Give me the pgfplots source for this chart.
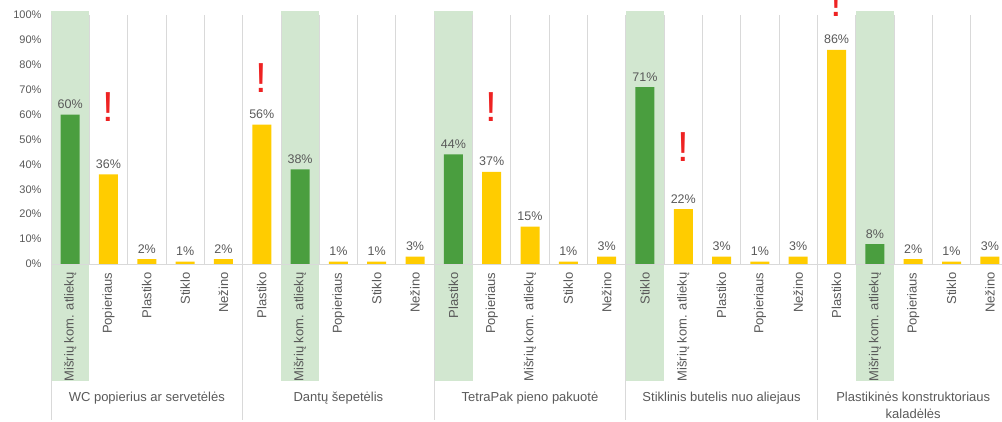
\documentclass[border=0pt]{standalone}
\usepackage{pgfplots}
\pgfplotsset{compat=1.18}
\usepackage{fontspec}
\setmainfont{Liberation Sans}
\definecolor{txt}{HTML}{595959}
\definecolor{grn}{HTML}{4A9E3F}
\definecolor{ylw}{HTML}{FFCC00}
\definecolor{hl}{HTML}{D2E7D0}
\definecolor{grd}{HTML}{D9D9D9}
\definecolor{exc}{HTML}{EE2222}
\begin{document}
\begin{tikzpicture}
\begin{axis}[
  at={(0pt,0pt)}, anchor=south west,
  scale only axis, width=958pt, height=249pt,
  xmin=-0.5, xmax=24.5, ymin=0, ymax=100,
  clip=false, axis on top,
  axis line style={draw=none},
  /pgf/number format/assume math mode=true,
  ytick={0,10,...,100},
  yticklabel={\pgfmathprintnumber{\tick}\%},
  yticklabel style={font=\fontsize{11}{13}\selectfont, text=txt, xshift=-6pt},
  xtick={0,...,24},
  xticklabels={Mišrių kom. atliekų, Popieriaus, Plastiko, Stiklo, Nežino, Plastiko, Mišrių kom. atliekų, Popieriaus, Stiklo, Nežino, Plastiko, Popieriaus, Mišrių kom. atliekų, Stiklo, Nežino, Stiklo, Mišrių kom. atliekų, Plastiko, Popieriaus, Nežino, Plastiko, Mišrių kom. atliekų, Popieriaus, Stiklo, Nežino},
  xticklabel style={yshift=-5pt, rotate=90, anchor=east, font=\fontsize{13}{15}\selectfont, text=txt},
  major tick length=0pt, minor tick length=0pt,
  minor xtick={-0.5,0.5,1.5,2.5,3.5,4.5,5.5,6.5,7.5,8.5,9.5,10.5,11.5,12.5,13.5,14.5,15.5,16.5,17.5,18.5,19.5,20.5,21.5,22.5,23.5,24.5},
  xminorgrids, minor grid style={draw=grd, line width=0.8pt},
  ybar, bar width=19pt,
  nodes near coords={\pgfmathprintnumber{\pgfplotspointmeta}\%},
  every node near coord/.append style={font=\fontsize{12.5}{14}\selectfont, text=txt, anchor=base, yshift=6pt},
]
% highlight columns
\fill[hl] (axis cs:-0.5,-47) rectangle (axis cs:0.5,101.6);
\fill[hl] (axis cs:5.5,-47) rectangle (axis cs:6.5,101.6);
\fill[hl] (axis cs:9.5,-47) rectangle (axis cs:10.5,101.6);
\fill[hl] (axis cs:14.5,-47) rectangle (axis cs:15.5,101.6);
\fill[hl] (axis cs:20.5,-47) rectangle (axis cs:21.5,101.6);
% zero line and group separators
\draw[grd, line width=0.8pt] (axis cs:-0.5,0) -- (axis cs:24.5,0);
\draw[grd, line width=0.8pt] (axis cs:-0.5,0) -- (axis cs:-0.5,-62.7);
\draw[grd, line width=0.8pt] (axis cs:4.5,0) -- (axis cs:4.5,-62.7);
\draw[grd, line width=0.8pt] (axis cs:9.5,0) -- (axis cs:9.5,-62.7);
\draw[grd, line width=0.8pt] (axis cs:14.5,0) -- (axis cs:14.5,-62.7);
\draw[grd, line width=0.8pt] (axis cs:19.5,0) -- (axis cs:19.5,-62.7);
\draw[grd, line width=0.8pt] (axis cs:24.5,0) -- (axis cs:24.5,-62.7);
\addplot[fill=grn, draw=none, bar shift=0pt] coordinates {(0,60) (6,38) (10,44) (15,71) (21,8)};
\addplot[fill=ylw, draw=none, bar shift=0pt] coordinates {(1,36) (2,2) (3,1) (4,2) (5,56) (7,1) (8,1) (9,3) (11,37) (12,15) (13,1) (14,3) (16,22) (17,3) (18,1) (19,3) (20,86) (22,2) (23,1) (24,3)};
% exclamation marks
\node[font=\fontsize{42}{42}\selectfont, text=exc, anchor=base, inner sep=0pt] at (axis cs:1,57.4) {!};
\node[font=\fontsize{42}{42}\selectfont, text=exc, anchor=base, inner sep=0pt] at (axis cs:5,68.7) {!};
\node[font=\fontsize{42}{42}\selectfont, text=exc, anchor=base, inner sep=0pt] at (axis cs:11,57.4) {!};
\node[font=\fontsize{42}{42}\selectfont, text=exc, anchor=base, inner sep=0pt] at (axis cs:16,41) {!};
\node[font=\fontsize{42}{42}\selectfont, text=exc, anchor=base, inner sep=0pt] at (axis cs:20,99.2) {!};
% group labels
\node[font=\fontsize{13}{15}\selectfont, text=txt, anchor=base] at (axis cs:2,-55.4) {WC popierius ar servetėlės};
\node[font=\fontsize{13}{15}\selectfont, text=txt, anchor=base] at (axis cs:7,-55.4) {Dantų šepetėlis};
\node[font=\fontsize{13}{15}\selectfont, text=txt, anchor=base] at (axis cs:12,-55.4) {TetraPak pieno pakuotė};
\node[font=\fontsize{13}{15}\selectfont, text=txt, anchor=base] at (axis cs:17,-55.4) {Stiklinis butelis nuo aliejaus};
\node[font=\fontsize{13}{15}\selectfont, text=txt, anchor=base] at (axis cs:22,-55.4) {Plastikinės konstruktoriaus};
\node[font=\fontsize{13}{15}\selectfont, text=txt, anchor=base] at (axis cs:22,-61.85) {kaladėlės};
\end{axis}
\pgfresetboundingbox
\path[use as bounding box] (-51pt,-158pt) rectangle (951pt,264pt);
\end{tikzpicture}
\end{document}
